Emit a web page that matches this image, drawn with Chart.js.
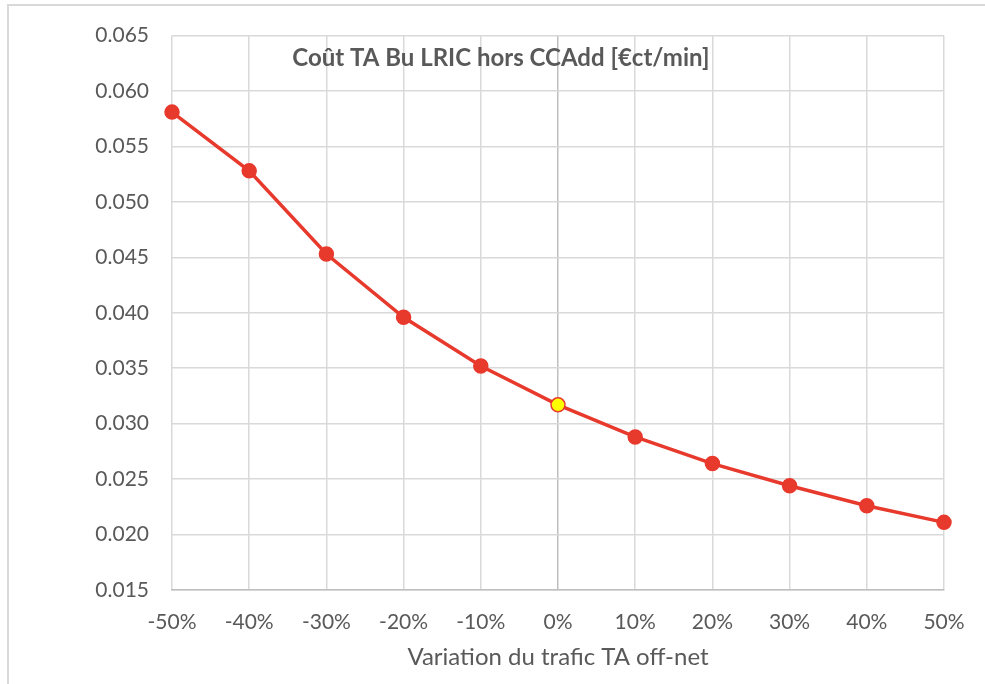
<!DOCTYPE html>
<html>
<head>
<meta charset="utf-8">
<script src="https://cdn.jsdelivr.net/npm/chart.js@4/dist/chart.umd.min.js"></script>
<style>
  html, body { margin: 0; padding: 0; background: #fff; }
  .frame { position: absolute; left: 7px; top: 4px; width: 978px; height: 680px;
           border-left: 2px solid #d9d9d9; border-top: 2px solid #d9d9d9; }
  #wrap { position: absolute; left: 0; top: 0; width: 985px; height: 684px; }
</style>
</head>
<body>
<div class="frame"></div>
<div id="wrap"><canvas id="myChart" width="985" height="684"></canvas></div>
<script>
// data
var variations = ["-50%", "-40%", "-30%", "-20%", "-10%", "0%", "10%", "20%", "30%", "40%", "50%"];
var cout = [0.0581, 0.0528, 0.0453, 0.0396, 0.0352, 0.0317, 0.0288, 0.0264, 0.0244, 0.0226, 0.0211];
var yTicks = [0.015, 0.020, 0.025, 0.030, 0.035, 0.040, 0.045, 0.050, 0.055, 0.060, 0.065];
var chartTitle = "Coût TA Bu LRIC hors CCAdd [€ct/min]";
var xTitle = "Variation du trafic TA off-net";

var red = "#e8392d";
var grey = "#595959";
var baseIndex = variations.indexOf("0%");

// title sits inside the plot area, a bit left of centre
var innerTitle = {
  id: "innerTitle",
  afterDraw: function (chart) {
    var a = chart.chartArea;
    var c = chart.ctx;
    c.save();
    c.font = "bold 24px Lato";
    c.fillStyle = grey;
    c.textAlign = "center";
    c.textBaseline = "middle";
    c.fillText(chartTitle, a.left + (a.right - a.left) * 0.426, a.top + 23);
    c.restore();
  }
};

var ctx = document.getElementById("myChart").getContext("2d");
var myChart = new Chart(ctx, {
  type: "line",
  data: {
    labels: variations,
    datasets: [{
      data: cout,
      borderColor: red,
      borderWidth: 3.5,
      tension: 0,
      pointRadius: 7,
      pointBorderWidth: 1.5,
      pointBorderColor: red,
      pointBackgroundColor: variations.map(function (v, i) { return i === baseIndex ? "#ffff00" : red; })
    }]
  },
  options: {
    responsive: false,
    animation: false,
    layout: { padding: { left: 0, right: 41, top: 35, bottom: 0 } },
    plugins: { legend: { display: false }, tooltip: { enabled: false } },
    scales: {
      x: {
        offset: false,
        grid: {
          drawTicks: false,
          color: function (c) { return c.index === baseIndex ? "#bfbfbf" : "#d9d9d9"; },
          lineWidth: 1.5
        },
        border: { color: "#bfbfbf", width: 1.5 },
        ticks: { color: grey, font: { family: "Lato", size: 21 }, padding: 20, maxRotation: 0 },
        title: { display: true, text: xTitle, color: grey, font: { family: "Lato", size: 24 }, padding: { top: 8, bottom: 12 } },
        afterFit: function (s) { s.height = 94; }
      },
      y: {
        min: 0.015,
        max: 0.065,
        afterBuildTicks: function (s) { s.ticks = yTicks.map(function (v) { return { value: v }; }); },
        grid: { drawTicks: false, color: "#d9d9d9", lineWidth: 1.5 },
        border: { display: false },
        ticks: {
          color: grey,
          font: { family: "Lato", size: 21 },
          padding: 23,
          callback: function (v) { return Number(v).toFixed(3); }
        },
        afterFit: function (s) { s.width = 172; }
      }
    }
  },
  plugins: [innerTitle]
});
</script>
</body>
</html>
